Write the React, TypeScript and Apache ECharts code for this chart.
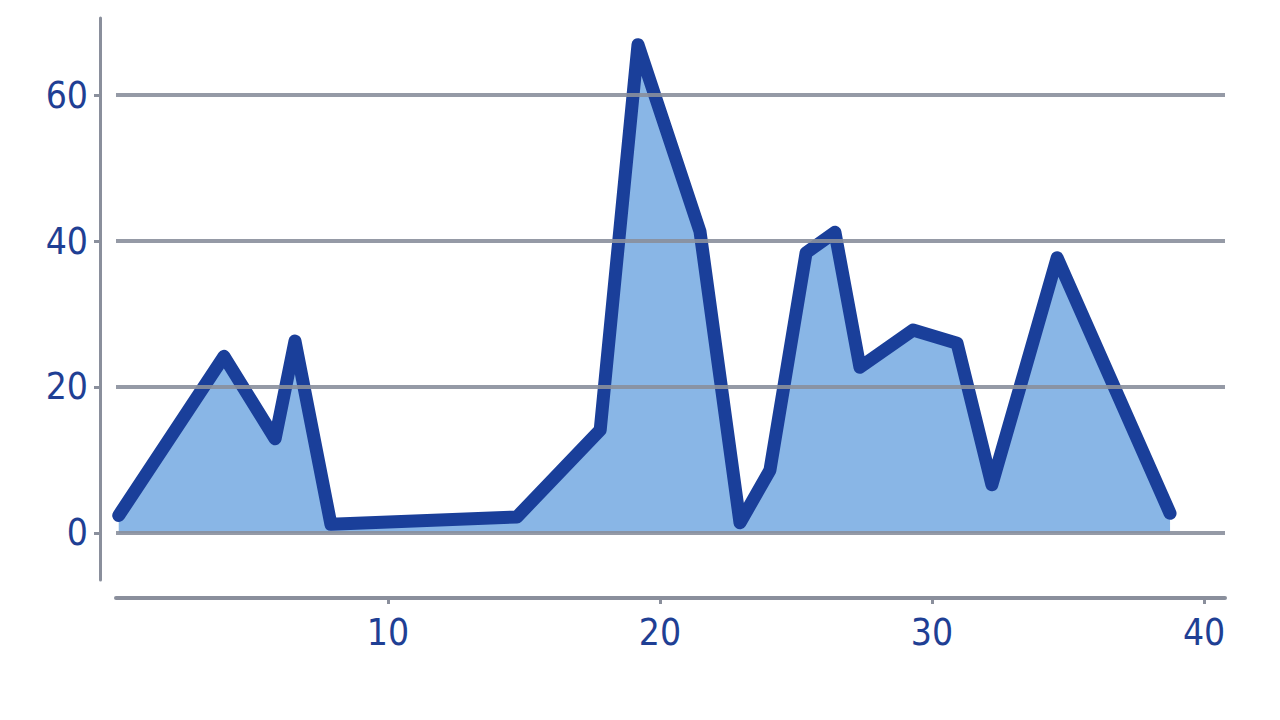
import React, { useEffect, useRef } from "react";
import * as echarts from "echarts";

const xValues = [0.1, 3.97, 5.85, 6.58, 7.9, 14.74, 17.8, 19.19, 21.47, 22.94, 24.04, 25.37, 26.43, 27.35, 29.3, 30.92, 32.2, 34.6, 38.75];
const yValues = [2.4, 24.2, 12.9, 26.3, 1.2, 2.2, 14.1, 66.9, 41.3, 1.4, 8.6, 38.4, 41.2, 22.7, 27.8, 26.0, 6.6, 37.7, 2.7];
const xTickLabels = [10, 20, 30, 40];
const yTickLabels = [0, 20, 40, 60];

const LABEL_FONT = "'Liberation Sans Narrow', 'DejaVu Sans Condensed', 'Roboto', sans-serif";
const LABEL_COLOR = "#1f3f94";
const AXIS_GRAY = "#8a8f9c";

export default function App() {
  const ref = useRef<HTMLDivElement>(null);
  useEffect(() => {
    if (!ref.current) return;
    const chart = echarts.init(ref.current, undefined, { renderer: "svg" });
    const data = xValues.map((x, i) => [x, yValues[i]]);
    chart.setOption({
      animation: false,
      backgroundColor: "#ffffff",
      grid: { left: 116, right: 55, top: 18, bottom: 140 },
      xAxis: {
        type: "value",
        min: 0,
        max: 40.77,
        offset: 18,
        axisLine: { show: true, onZero: false, lineStyle: { color: AXIS_GRAY, width: 4 } },
        axisTick: { show: true, length: 6, lineStyle: { color: AXIS_GRAY, width: 3 }, customValues: xTickLabels },
        axisLabel: {
          customValues: xTickLabels,
          color: LABEL_COLOR,
          fontFamily: LABEL_FONT,
          fontSize: 37,
          margin: 16,
          formatter: (v: number) => (xTickLabels.includes(v) ? String(v) : ""),
        },
        splitLine: { show: false },
      },
      yAxis: {
        type: "value",
        min: -6.44,
        max: 70.55,
        offset: 16,
        axisLine: { show: true, onZero: false, lineStyle: { color: AXIS_GRAY, width: 3 } },
        axisTick: { show: true, length: 6, lineStyle: { color: AXIS_GRAY, width: 3 }, customValues: yTickLabels },
        axisLabel: {
          customValues: yTickLabels,
          color: LABEL_COLOR,
          fontFamily: LABEL_FONT,
          fontSize: 37,
          margin: 12,
          formatter: (v: number) => (yTickLabels.includes(v) ? String(v) : ""),
        },
        splitLine: { show: false },
      },
      series: [
        {
          type: "line",
          data,
          symbol: "none",
          smooth: false,
          lineStyle: { color: "#1a3f9a", width: 13, join: "round", cap: "round" },
          areaStyle: { color: "#89b6e6", opacity: 1 },
          z: 2,
          silent: true,
          markLine: {
            silent: true,
            symbol: ["none", "none"],
            label: { show: false },
            lineStyle: { color: AXIS_GRAY, width: 4, type: "solid", opacity: 0.9 },
            emphasis: { disabled: true },
            z: 5,
            data: yTickLabels.map((v) => ({ yAxis: v })),
          },
        },
      ],
    });
    return () => chart.dispose();
  }, []);
  return (
    <div
      ref={ref}
      style={{ position: "fixed", left: 0, top: 0, width: 1280, height: 720, background: "#fff" }}
    />
  );
}
